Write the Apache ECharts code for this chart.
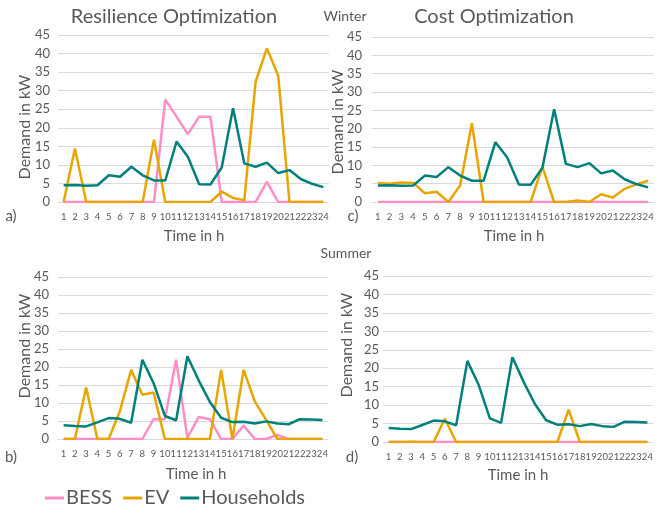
<!DOCTYPE html>
<html>
<head>
<meta charset="utf-8">
<script src="https://cdn.jsdelivr.net/npm/echarts@6/dist/echarts.min.js"></script>
<style>
  html, body { margin: 0; padding: 0; background: #fff; }
  #chart { width: 670px; height: 506px; }
</style>
</head>
<body>
<div id="chart"></div>
<script>
// Hour of day (x-axis categories)
const hours = ['1','2','3','4','5','6','7','8','9','10','11','12',
               '13','14','15','16','17','18','19','20','21','22','23','24'];

// Y-axis scale (kW)
const yMin = 0, yMax = 45, yStep = 5;

// Winter - resilience optimization
const winterResBESS  = [0,0,0,0,0,0,0,0,0,27.6,23.0,18.3,23.0,23.0,0,0,0,0,5.4,0,0,0,0,0];
const winterResEV    = [0,14.4,0,0,0,0,0,0,16.8,0,0,0,0,0,2.8,1.1,0.5,32.4,41.4,34.1,0,0,0,0];
const winterHouse    = [4.5,4.6,4.4,4.5,7.2,6.8,9.5,7.2,5.8,5.8,16.3,12.2,4.8,4.7,9.3,25.3,10.4,9.5,10.6,7.8,8.6,6.2,4.9,4.0];

// Winter - cost optimization
const winterCostBESS = [0,0,0,0,0,0,0,0,0,0,0,0,0,0,0,0,0,0,0,0,0,0,0,0];
const winterCostEV   = [5.2,5.0,5.3,5.2,2.4,2.8,0,4.5,21.5,0,0,0,0,0,9.6,0,0,0.4,0,2.1,1.2,3.6,4.8,5.8];

// Summer - resilience optimization
const summerResBESS  = [0,0,0,0,0,0,0,0,5.5,5.5,22.0,0.3,6.1,5.5,0,0,3.7,0,0,1.1,0,0,0,0];
const summerResEV    = [0,0,14.3,0,0,7.7,19.2,12.3,12.9,0,0,0,0,0,19.2,0,19.2,10.4,5.3,0,0,0,0,0];
const summerHouse    = [3.8,3.6,3.5,4.6,5.8,5.6,4.5,22.0,15.5,6.4,5.2,23.0,16.3,10.3,5.9,4.7,4.8,4.3,4.9,4.3,4.1,5.5,5.4,5.3];

// Summer - cost optimization
const summerCostBESS = [0,0,0,0,0,0,0,0,0,0,0,0,0,0,0,0,0,0,0,0,0,0,0,0];
const summerCostEV   = [0,0,0.1,0,0,6.3,0,0,0,0,0,0,0,0,0,0,8.8,0,0,0,0,0,0,0];

const seriesNames = ['BESS', 'EV', 'Households'];
const colors = { BESS: '#FF8DC6', EV: '#E8A500', Households: '#00807A' };

const FONT = 'Lato, "Open Sans", sans-serif';
const TEXT = '#595959';
const GRIDLINE = '#D9D9D9';

// panel geometry: a) winter/resilience, c) winter/cost, b) summer/resilience, d) summer/cost
const panels = [
  { grid: { left: 58,  top: 35,  width: 271, height: 167 }, labelMargin: 8,
    data: [winterResBESS, winterResEV, winterHouse] },
  { grid: { left: 372, top: 37,  width: 282, height: 165 }, labelMargin: 10,
    data: [winterCostBESS, winterCostEV, winterHouse] },
  { grid: { left: 58,  top: 277, width: 270, height: 162 }, labelMargin: 9,
    data: [summerResBESS, summerResEV, summerHouse] },
  { grid: { left: 383, top: 276, width: 270, height: 166 }, labelMargin: 4,
    data: [summerCostBESS, summerCostEV, summerHouse] }
];

const grids = [], xAxes = [], yAxes = [], series = [];
panels.forEach((p, i) => {
  grids.push(Object.assign({ containLabel: false }, p.grid));
  xAxes.push({
    type: 'category', gridIndex: i, data: hours, boundaryGap: true,
    axisLine: { show: true, lineStyle: { color: GRIDLINE, width: 1 } },
    axisTick: { show: false },
    axisLabel: { interval: 0, color: TEXT, fontFamily: FONT, fontSize: 9.5, margin: 10 }
  });
  yAxes.push({
    type: 'value', gridIndex: i, min: yMin, max: yMax, interval: yStep,
    axisLine: { show: false }, axisTick: { show: false },
    splitLine: { lineStyle: { color: GRIDLINE, width: 1 } },
    axisLabel: { color: TEXT, fontFamily: FONT, fontSize: 13, margin: p.labelMargin }
  });
  seriesNames.forEach((name, k) => {
    series.push({
      name: name, type: 'line', xAxisIndex: i, yAxisIndex: i,
      data: p.data[k], showSymbol: false, symbol: 'none', silent: true,
      lineStyle: { color: colors[name], width: 2.5 },
      itemStyle: { color: colors[name] },
      z: 2 + k, animation: false
    });
  });
});

function label(text, x, y, size, extra) {
  return Object.assign({
    type: 'text', x: x, y: y, silent: true,
    style: { text: text, fill: TEXT, font: size + 'px ' + FONT,
             textAlign: 'center', textVerticalAlign: 'middle' }
  }, extra || {});
}

const graphics = [
  label('Resilience Optimization', 174, 17, 20),
  label('Cost Optimization', 494, 17, 20),
  label('Winter', 345, 16, 14),
  label('Summer', 346, 253, 14),
  label('Time in h', 194, 236, 15),
  label('Time in h', 514, 236, 15),
  label('Time in h', 196, 474, 15),
  label('Time in h', 518, 475, 15),
  label('a)', 11, 216, 15),
  label('c)', 353, 216, 15),
  label('b)', 11, 457, 15),
  label('d)', 352, 457, 15),
  label('Demand in kW', 25, 127, 16, { rotation: Math.PI / 2 }),
  label('Demand in kW', 338, 122, 16, { rotation: Math.PI / 2 }),
  label('Demand in kW', 25, 346, 16, { rotation: Math.PI / 2 }),
  label('Demand in kW', 347, 345, 16, { rotation: Math.PI / 2 })
];

const chart = echarts.init(document.getElementById('chart'), null, { renderer: 'canvas' });
chart.setOption({
  animation: false,
  backgroundColor: '#fff',
  grid: grids,
  xAxis: xAxes,
  yAxis: yAxes,
  series: series,
  legend: {
    data: seriesNames, left: 40, top: 483, icon: 'rect',
    itemWidth: 19, itemHeight: 3, itemGap: 11,
    textStyle: { color: TEXT, fontFamily: FONT, fontSize: 20, padding: [0, 0, 0, -3] },
    selectedMode: false
  },
  graphic: graphics
});
</script>
</body>
</html>
